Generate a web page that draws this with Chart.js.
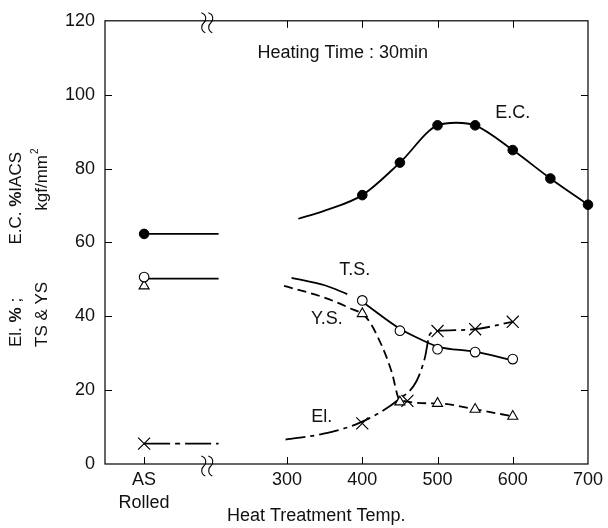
<!DOCTYPE html>
<html>
<head>
<meta charset="utf-8">
<script src="https://cdn.jsdelivr.net/npm/chart.js@4/dist/chart.umd.min.js"></script>
<style>
  html, body { margin: 0; padding: 0; background: #fff; }
  #wrap { width: 608px; height: 528px; }
</style>
</head>
<body>
<div id="wrap"><canvas id="chart"></canvas></div>
<script>
// "AS Rolled" sits on the temperature axis left of the break
const asRolledX = 110;
const asLineEndX = 209;
const breakX = 194;
const xTickValues = [110, 300, 400, 500, 600, 700];

// measured points
const ecTemps = [400, 450, 500, 550, 600, 650, 700];
const ecValues = [72.8, 81.6, 91.7, 91.7, 85.0, 77.3, 70.2];
const tsTemps = [400, 450, 500, 550, 600];
const tsValues = [44.3, 36.1, 31.1, 30.3, 28.4];
const ysTemps = [400, 450, 500, 550, 600];
const ysValues = [40.7, 16.8, 16.4, 14.8, 12.9];
const elTemps = [400, 460, 500, 550, 600];
const elValues = [11.0, 17.1, 36.0, 36.5, 38.5];

// as rolled
const asEC = 62.3;
const asTS = 50.6;
const asYS = 48.2;
const asEl = 5.5;

// hand drawn curves
const ecCurveT = [315, 350, 400, 450, 500, 525, 550, 600, 650, 700];
const ecCurveV = [66.4, 68.6, 72.8, 81.6, 91.7, 92.4, 91.7, 85.0, 77.3, 70.2];
const tsCurveT = [306, 350, 380, 392, 404, 450, 478, 500, 550, 600];
const tsCurveV = [50.4, 48.4, 46.0, null, 43.3, 36.6, 33.7, 31.8, 30.4, 28.1];
const ysCurveT = [296, 346, 382, 406, 426, 439, 450, 500, 550, 600];
const ysCurveV = [48.2, 45.3, 42.3, 39.5, 32.0, 25.0, 17.3, 16.4, 14.8, 12.9];
const elCurveT = [298, 346, 397, 448, 472, 483, 490, 500, 550, 600];
const elCurveV = [6.6, 8.1, 11.2, 17.4, 22.4, 28.6, 35.2, 36.0, 36.5, 38.5];

const pts = (xs, ys) => xs.map((x, i) => ({x: x, y: ys[i]}));

const FONT = '"Liberation Sans", Arial, sans-serif';
Chart.defaults.font.family = FONT;
Chart.defaults.color = '#111';

function markers(data, style, r, fill, bw) {
  return {
    data: data,
    showLine: false,
    pointStyle: style,
    pointRadius: r,
    pointBackgroundColor: fill,
    pointBorderColor: '#000',
    pointBorderWidth: bw,
    clip: false
  };
}

function curve(data, dash) {
  return {
    data: data,
    borderColor: '#000',
    borderWidth: 1.8,
    borderDash: dash,
    pointRadius: 0,
    cubicInterpolationMode: 'monotone',
    spanGaps: false
  };
}

// ticks pointing inwards, axis breaks and the free text
const decor = {
  id: 'decor',
  afterDraw(chart) {
    const ctx = chart.ctx;
    const a = chart.chartArea;
    const x = chart.scales.x;
    const y = chart.scales.y;
    ctx.save();
    ctx.strokeStyle = '#000';
    ctx.lineWidth = 1.2;
    ctx.strokeRect(a.left, a.top, a.right - a.left, a.bottom - a.top);

    ctx.lineWidth = 1;
    ctx.beginPath();
    [20, 40, 60, 80, 100].forEach(v => {
      const py = Math.round(y.getPixelForValue(v)) + 0.5;
      ctx.moveTo(a.left, py); ctx.lineTo(a.left + 7, py);
      ctx.moveTo(a.right, py); ctx.lineTo(a.right - 7, py);
    });
    [asRolledX, 300, 400, 500, 600].forEach(v => {
      const px = Math.round(x.getPixelForValue(v)) + 0.5;
      ctx.moveTo(px, a.bottom); ctx.lineTo(px, a.bottom - 7);
      if (v !== asRolledX) { ctx.moveTo(px, a.top); ctx.lineTo(px, a.top + 7); }
    });
    ctx.stroke();

    // break marks
    const bx = x.getPixelForValue(breakX);
    ctx.lineWidth = 1.1;
    [a.top + 2, a.bottom + 2].forEach(c => {
      [bx - 3.5, bx + 3.5].forEach(sx => {
        ctx.beginPath();
        ctx.moveTo(sx - 2.5, c - 10);
        ctx.bezierCurveTo(sx + 3.5, c - 8, sx + 2.5, c - 2, sx, c);
        ctx.bezierCurveTo(sx - 2.5, c + 2, sx - 3.5, c + 8, sx + 1.5, c + 10);
        ctx.stroke();
      });
    });

    ctx.fillStyle = '#111';
    ctx.textAlign = 'center';
    ctx.textBaseline = 'middle';
    ctx.font = '18px ' + FONT;
    const label = (t, tx, ty) => ctx.fillText(t, x.getPixelForValue(tx), y.getPixelForValue(ty));
    label('Heating Time : 30min', 374, 111.3);
    label('E.C.', 600, 95);
    label('T.S.', 390, 52.4);
    label('Y.S.', 353, 39.2);
    label('El.', 346, 12.6);

    ctx.textAlign = 'left';
    ctx.textBaseline = 'alphabetic';
    ctx.fillText('Heat Treatment Temp.', 227, 521);

    // rotated y title, two lines with bold percent signs
    const normal = '17px ' + FONT;
    const bold = 'bold 17px ' + FONT;
    const run = (parts, start) => {
      let px = start;
      parts.forEach(p => {
        ctx.font = p[1] ? bold : normal;
        ctx.fillText(p[0], px, 0);
        px += ctx.measureText(p[0]).width;
      });
    };
    const width = parts => parts.reduce((s, p) => {
      ctx.font = p[1] ? bold : normal;
      return s + ctx.measureText(p[0]).width;
    }, 0);
    ctx.textBaseline = 'middle';

    ctx.save();
    ctx.translate(16, 347);
    ctx.rotate(-Math.PI / 2);
    run([['El. ', 0], ['%', 1], [' ;', 0]], 0);
    const g1 = [['E.C. ', 0], ['%', 1], ['IACS', 0]];
    run(g1, 195 - width(g1));
    ctx.restore();

    ctx.save();
    ctx.translate(42, 347);
    ctx.rotate(-Math.PI / 2);
    run([['TS & YS', 0]], 0);
    ctx.font = normal;
    const kw = ctx.measureText('kgf/mm').width;
    const start = 192 - kw;
    ctx.fillText('kgf/mm', start, 0);
    ctx.font = '10px ' + FONT;
    ctx.fillText('2', start + kw + 1, -7);
    ctx.restore();

    ctx.restore();
  }
};

new Chart(document.getElementById('chart'), {
  type: 'line',
  data: {
    datasets: [
      markers(pts([asRolledX].concat(ecTemps), [asEC].concat(ecValues)), 'circle', 4.8, '#000', 1),
      markers(pts([asRolledX].concat(tsTemps), [asTS].concat(tsValues)), 'circle', 4.8, '#fff', 1.1),
      markers(pts([asRolledX].concat(ysTemps), [asYS].concat(ysValues)), 'triangle', 5.8, '#fff', 1.1),
      markers(pts([asRolledX].concat(elTemps), [asEl].concat(elValues)), 'crossRot', 8.5, '#000', 1.2),
      curve(pts(ecCurveT, ecCurveV), []),
      curve(pts(tsCurveT, tsCurveV), []),
      curve(pts(ysCurveT, ysCurveV), [9, 5]),
      curve(pts(elCurveT, elCurveV), [20, 5, 4, 5]),
      curve(pts([asRolledX, asLineEndX], [asEC, asEC]), []),
      curve(pts([asRolledX, asLineEndX], [asTS - 0.4, asTS - 0.4]), []),
      curve(pts([asRolledX, asLineEndX], [asEl, asEl]), [26, 5, 5, 5])
    ]
  },
  options: {
    responsive: true,
    maintainAspectRatio: false,
    animation: false,
    layout: { padding: { top: 10, right: 17, bottom: 0, left: 0 } },
    plugins: { legend: { display: false }, tooltip: { enabled: false } },
    scales: {
      x: {
        type: 'linear',
        min: 58,
        max: 700,
        grid: { display: false, drawTicks: false },
        border: { display: false },
        afterBuildTicks: s => { s.ticks = xTickValues.map(v => ({value: v})); },
        afterFit: s => { s.height = 64; },
        ticks: {
          autoSkip: false,
          maxRotation: 0,
          padding: 5,
          font: { size: 18, lineHeight: 1.25 },
          callback: v => v === asRolledX ? ['AS', 'Rolled'] : String(v)
        }
      },
      y: {
        min: 0,
        max: 120,
        grid: { display: false, drawTicks: false },
        border: { display: false },
        afterFit: s => { s.width = 105; },
        ticks: { stepSize: 20, padding: 10, font: { size: 18 } }
      }
    }
  },
  plugins: [decor]
});
</script>
</body>
</html>
